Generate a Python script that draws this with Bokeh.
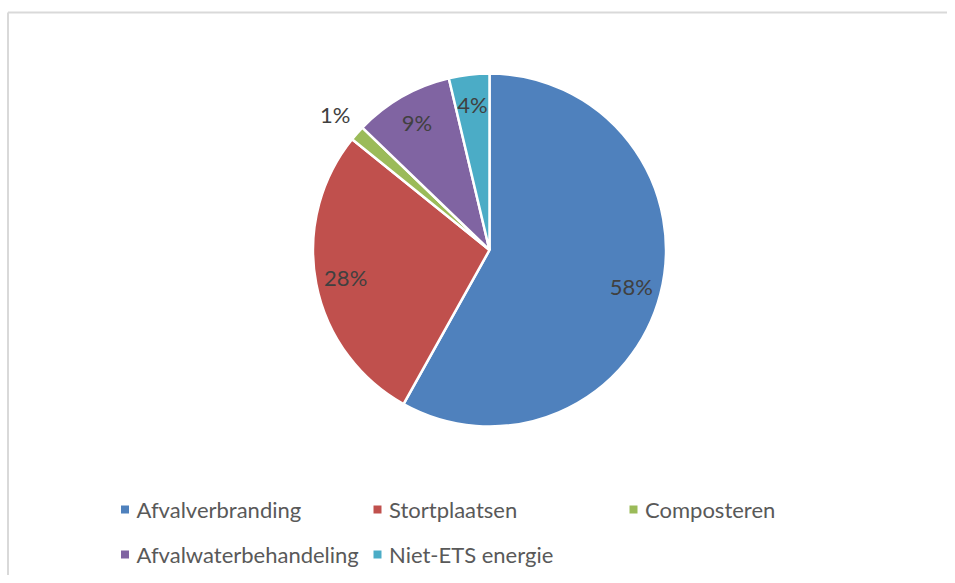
import math
from bokeh.plotting import figure
from bokeh.models import Range1d, ColumnDataSource
from bokeh.core.properties import value
from bokeh.embed import file_html
from bokeh.resources import INLINE

# ---- data ----
categories = ["Afvalverbranding", "Stortplaatsen", "Composteren",
              "Afvalwaterbehandeling", "Niet-ETS energie"]
shares = [58.1, 27.7, 1.4, 9.1, 3.7]
colors = ["#4F81BD", "#C0504D", "#9BBB59", "#8064A2", "#4BACC6"]

# ---- layout (pixels) ----
W, H = 947, 575
CX, CY = 489.0, H - 249.5       # pie centre in data (pixel) coords
R = 176.5
legend_cols = [124.5, 377.0, 633.0]
legend_rows = [H - 509.0, H - 554.0]
FRAME_X, FRAME_Y = 7.5, H - 12.0

p = figure(width=W, height=H, output_backend="svg", toolbar_location=None,
           x_range=Range1d(0, W), y_range=Range1d(0, H), min_border=0)
p.axis.visible = False
p.grid.visible = False
p.outline_line_color = None
p.background_fill_color = "white"
p.border_fill_color = "white"

# chart frame (top and left edges visible in reference)
p.segment(x0=[FRAME_X, FRAME_X], y0=[FRAME_Y, 0], x1=[W, FRAME_X],
          y1=[FRAME_Y, FRAME_Y], line_color="#D9D9D9", line_width=2)

total = sum(shares)
starts, ends, lx, ly, labels = [], [], [], [], []
cum = 0.0
for s in shares:
    a0 = math.pi / 2 - 2 * math.pi * cum / total
    cum += s
    a1 = math.pi / 2 - 2 * math.pi * cum / total
    starts.append(a0)
    ends.append(a1)
    mid = (a0 + a1) / 2
    frac = s / total
    rr = R * (1.165 if frac < 0.02 else 0.83)
    lx.append(CX + rr * math.cos(mid))
    ly.append(CY + rr * math.sin(mid))
    labels.append(f"{round(frac * 100):.0f}%")

src = ColumnDataSource(dict(start=starts, end=ends, color=colors,
                            lx=lx, ly=ly, label=labels, cat=categories))
p.wedge(x=CX, y=CY, radius=R, start_angle="start", end_angle="end",
        direction="clock", fill_color="color", line_color="white",
        line_width=2.5, source=src)
p.text(x="lx", y="ly", text="label", source=src, text_align="center",
       text_baseline="middle", text_font=value("Lato"),
       text_font_size="22px", text_color="#404040")

# legend
mx, my = [], []
for i in range(len(categories)):
    mx.append(legend_cols[i % 3])
    my.append(legend_rows[i // 3])
leg = ColumnDataSource(dict(x=mx, y=my, tx=[x + 11.5 for x in mx],
                            color=colors, cat=categories))
p.rect(x="x", y="y", width=8, height=8, fill_color="color",
       line_color=None, source=leg)
p.text(x="tx", y="y", text="cat", source=leg, text_align="left",
       text_baseline="middle", text_font=value("Lato"),
       text_font_size="22px", text_color="#595959")

open("out.html", "w").write(file_html(p, INLINE))
